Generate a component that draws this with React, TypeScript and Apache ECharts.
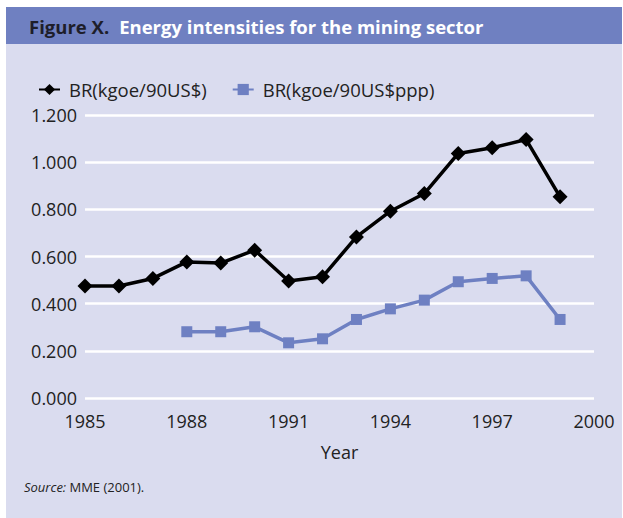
import React, { useEffect, useRef } from "react";
import * as echarts from "echarts";

const years = [1985, 1986, 1987, 1988, 1989, 1990, 1991, 1992, 1993, 1994, 1995, 1996, 1997, 1998, 1999];
const brUsd = [0.475, 0.475, 0.507, 0.577, 0.572, 0.627, 0.496, 0.514, 0.683, 0.792, 0.867, 1.037, 1.061, 1.096, 0.853];
const brPpp = [null, null, null, 0.281, 0.281, 0.302, 0.234, 0.251, 0.333, 0.378, 0.415, 0.493, 0.507, 0.518, 0.333];
const seriesNames = ["BR(kgoe/90US$)", "BR(kgoe/90US$ppp)"];
const titleLead = "Figure X.";
const titleText = "Energy intensities for the mining sector";
const xAxisName = "Year";

const FONT = "'Open Sans', 'Noto Sans', sans-serif";

export default function App() {
  const ref = useRef<HTMLDivElement>(null);
  useEffect(() => {
    if (!ref.current) return;
    const chart = echarts.init(ref.current, null, { renderer: "svg" });
    chart.setOption({
      animation: false,
      backgroundColor: "#ffffff",
      textStyle: { fontFamily: FONT },
      graphic: [
        { type: "rect", shape: { x: 6, y: 7, width: 616, height: 511 }, style: { fill: "#dadcef" }, z: -10 },
        { type: "rect", shape: { x: 6, y: 7, width: 616, height: 37 }, style: { fill: "#6f80c1" }, z: -9 },
        {
          type: "text",
          x: 29,
          y: 26,
          style: {
            text: "{a|" + titleLead + "}   {b|" + titleText + "}",
            verticalAlign: "middle",
            rich: {
              a: { fontFamily: FONT, fontSize: 18.5, fontWeight: "bold", fill: "#1e1e2a" },
              b: { fontFamily: FONT, fontSize: 18.5, fontWeight: "bold", fill: "#ffffff" },
            },
          },
        },
        {
          type: "text",
          x: 24,
          y: 487,
          style: {
            text: "{i|Source:} {n|MME (2001).}",
            verticalAlign: "middle",
            rich: {
              i: { fontFamily: FONT, fontSize: 13, fontStyle: "italic", fill: "#222" },
              n: { fontFamily: FONT, fontSize: 13, fill: "#222" },
            },
          },
        },
      ],
      legend: {
        left: 33,
        top: 75,
        itemGap: 25,
        itemWidth: 21,
        itemHeight: 14,
        textStyle: { fontFamily: FONT, fontSize: 18.5, color: "#222", padding: [0, 0, 0, 4] },
        data: seriesNames,
      },
      grid: { left: 85, right: 29, top: 115, bottom: 120, containLabel: false },
      xAxis: {
        type: "value",
        min: 1985,
        max: 2000,
        interval: 3,
        name: xAxisName,
        nameLocation: "middle",
        nameGap: 45,
        nameTextStyle: { fontFamily: FONT, fontSize: 18, color: "#222" },
        axisLine: { show: false },
        axisTick: { show: false },
        splitLine: { show: false },
        axisLabel: {
          fontFamily: FONT,
          fontSize: 18,
          color: "#222",
          margin: 14,
          formatter: (v: number) => String(v),
        },
      },
      yAxis: {
        type: "value",
        min: 0,
        max: 1.2,
        interval: 0.2,
        axisLine: { show: false },
        axisTick: { show: false },
        splitLine: { lineStyle: { color: "#ffffff", width: 2.5 } },
        axisLabel: {
          fontFamily: FONT,
          fontSize: 18,
          color: "#222",
          margin: 8,
          formatter: (v: number) => v.toFixed(3),
        },
      },
      series: [
        {
          name: seriesNames[0],
          type: "line",
          data: years.map((y, i) => [y, brUsd[i]]),
          symbol: "diamond",
          symbolSize: 15,
          itemStyle: { color: "#000000" },
          lineStyle: { color: "#000000", width: 3.5 },
        },
        {
          name: seriesNames[1],
          type: "line",
          data: years.map((y, i) => [y, brPpp[i]]),
          symbol: "rect",
          symbolSize: 11,
          itemStyle: { color: "#6e80c2" },
          lineStyle: { color: "#6e80c2", width: 3.5 },
        },
      ],
    });
    return () => chart.dispose();
  }, []);
  return <div ref={ref} style={{ position: "fixed", left: 0, top: 0, width: 623, height: 518 }} />;
}
